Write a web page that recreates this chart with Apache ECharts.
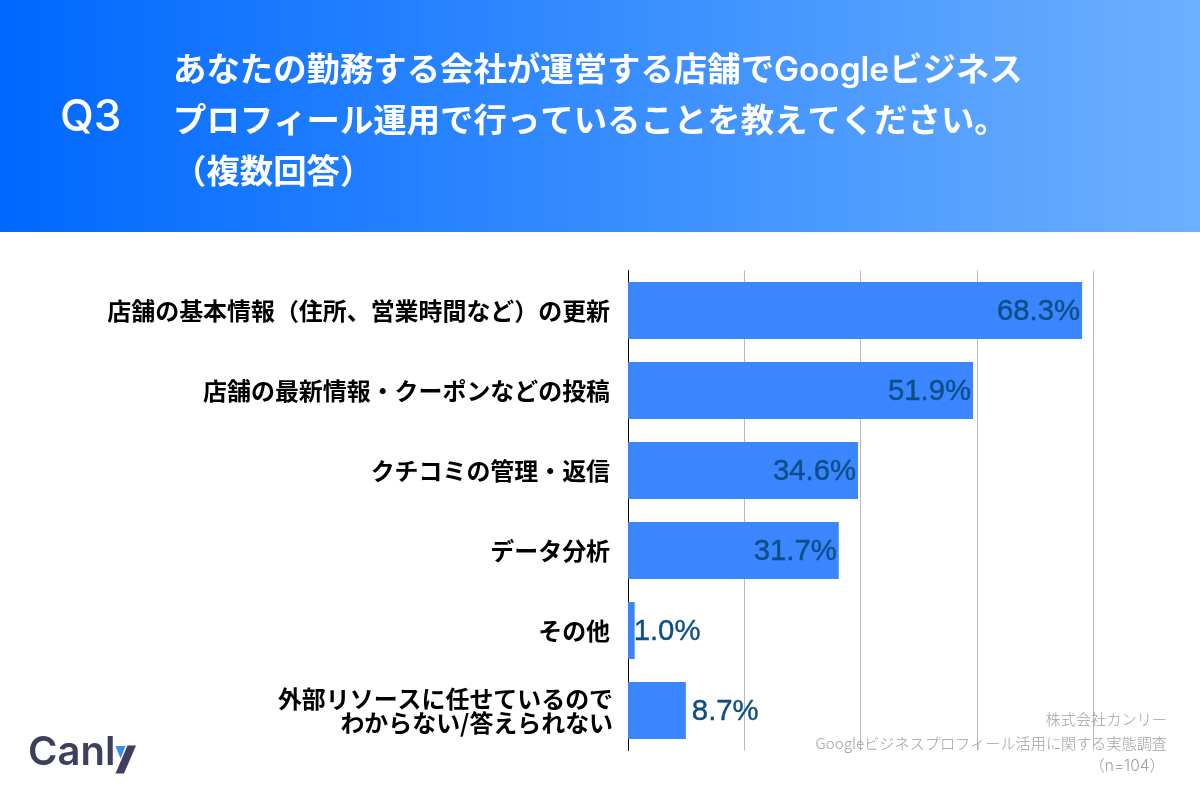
<!DOCTYPE html>
<html lang="ja"><head><meta charset="utf-8">
<style>html,body{margin:0;padding:0;background:#fff}#c{width:1200px;height:800px}</style>
<script src="https://cdn.jsdelivr.net/npm/echarts@6/dist/echarts.min.js"></script>
</head><body><div id="c"></div>
<script>
const categories = ['店舗の基本情報（住所、営業時間など）の更新','店舗の最新情報・クーポンなどの投稿','クチコミの管理・返信','データ分析','その他','外部リソースに任せているので\nわからない/答えられない'];
const values = [68.3,51.9,34.6,31.7,1.0,8.7];
const questionNo = 'Q3';
const questionLines = ['あなたの勤務する会社が運営する店舗でGoogleビジネス','プロフィール運用で行っていることを教えてください。','（複数回答）'];
const footerLines = ['株式会社カンリー','Googleビジネスプロフィール活用に関する実態調査','（n=104）'];
const brandHead = 'Canl';
const brandTail = 'y';
const FONT = 'Inter, "Noto Sans CJK JP", sans-serif';
const JP = '"Noto Sans CJK JP", sans-serif';
const labelColor = '#0b4f86';
const labelFor = v => v >= 20
  ? {position:'insideRight',distance:2,offset:[0,1]}
  : {position:'right',distance: v < 2 ? -1 : 6,offset:[0,1]};
const chart = echarts.init(document.getElementById('c'),null,{renderer:'canvas'});
chart.setOption({
  animation:false,
  backgroundColor:'#fff',
  title:{show:true,text:questionLines.join('\n'),left:168,top:40,
    textStyle:{fontFamily:FONT,fontSize:33.4,fontWeight:600,color:'#fff',lineHeight:51}},
  grid:{left:628,top:270.5,width:465.4,height:480,containLabel:false},
  xAxis:{type:'value',min:0,max:70,interval:17.5,
    axisLabel:{show:false},axisTick:{show:false},axisLine:{show:false},
    splitLine:{show:true,lineStyle:{color:'#b8b8b8',width:1}}},
  yAxis:{type:'category',inverse:true,
    data:categories.map((c,i)=>i===categories.length-1?{value:c,textStyle:{padding:[2,-3,0,0]}}:c),
    axisTick:{show:false},
    axisLine:{show:true,lineStyle:{color:'#000',width:1}},
    axisLabel:{margin:18,align:'right',color:'#000',fontFamily:JP,fontSize:23.95,fontWeight:600,lineHeight:24}},
  series:[{type:'bar',barWidth:57,itemStyle:{color:'#3b85ff'},
    data:values.map(v=>({value:v,label:labelFor(v)})),
    label:{show:true,formatter:p=>p.value.toFixed(1)+'%',color:labelColor,
      fontFamily:'"Liberation Sans", sans-serif',fontSize:29.3,fontWeight:400,
      textBorderColor:labelColor,textBorderWidth:0.4}}],
  graphic:[
    {type:'rect',z:-10,silent:true,shape:{x:0,y:0,width:1200,height:232},
      style:{fill:new echarts.graphic.LinearGradient(0,0,1,0,[{offset:0,color:'#0068ff'},{offset:1,color:'#6cb0ff'}])}},
    {type:'text',z:10,x:60,y:118,style:{text:questionNo,fontFamily:FONT,fontSize:44,fontWeight:500,fill:'#fff',textVerticalAlign:'middle'}},
    {type:'text',z:10,x:1167,y:719.5,style:{text:footerLines[0],fontFamily:JP,fontSize:15.2,fontWeight:300,fill:'#a0a0a0',textAlign:'right',textVerticalAlign:'middle'}},
    {type:'text',z:10,x:1167,y:743,style:{text:footerLines[1],fontFamily:JP,fontSize:15.15,fontWeight:300,fill:'#a0a0a0',textAlign:'right',textVerticalAlign:'middle'}},
    {type:'text',z:10,x:1165,y:766,style:{text:footerLines[2],fontFamily:FONT,fontSize:15.5,fontWeight:300,fill:'#a0a0a0',textAlign:'right',textVerticalAlign:'middle'}},
    {type:'text',z:10,x:28,y:753,style:{text:'{a|'+brandHead+'}{b|'+brandTail+'}',verticalAlign:'middle',
      rich:{a:{fontFamily:'Inter, sans-serif',fontSize:40,fontWeight:600,fill:'#3d3f5c'},
            b:{fontFamily:'Inter, sans-serif',fontSize:40,fontWeight:600,fill:'rgba(0,0,0,0)',width:0}}}},
    {type:'polygon',z:11,shape:{points:[[127.5,745.5],[136,745.5],[124,773.5],[115.5,773.5]]},style:{fill:'#3d3f5c'}},
    {type:'polygon',z:12,shape:{points:[[115.5,746],[125.5,746],[120.5,758.5]]},style:{fill:'#3a8cf0'}}
  ]
});
</script></body></html>
